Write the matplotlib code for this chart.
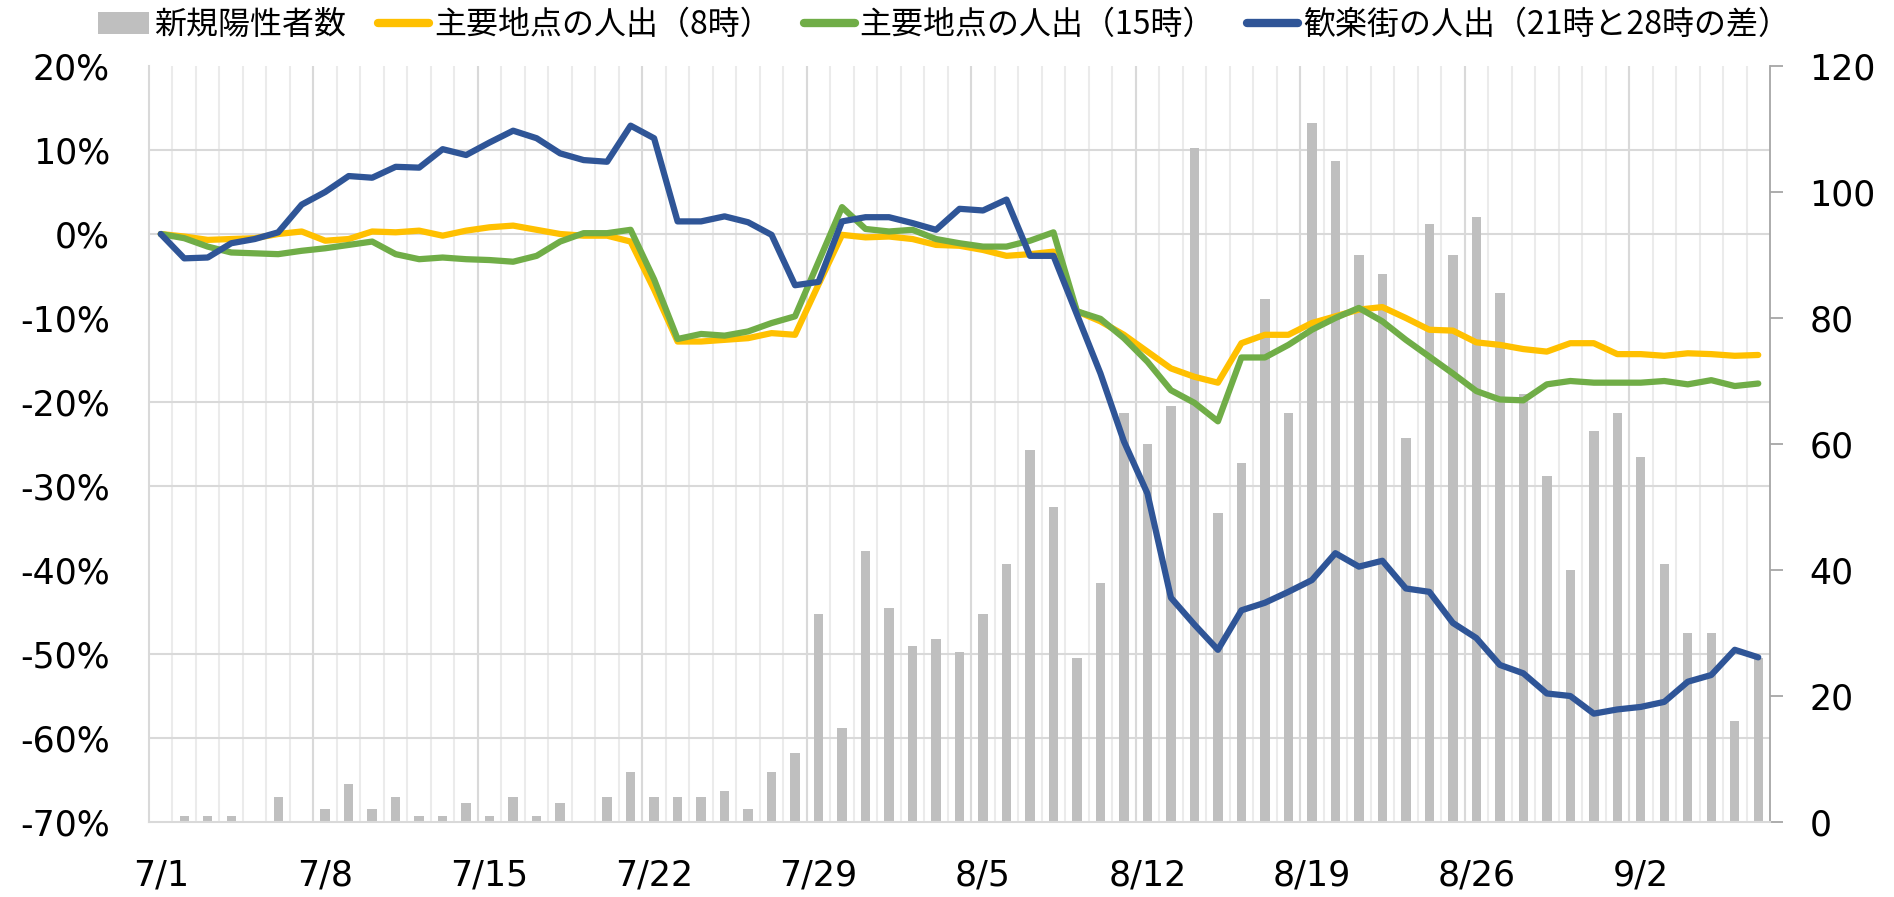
import numpy as np
import matplotlib
matplotlib.use("Agg")
import matplotlib.pyplot as plt
from matplotlib.patches import Patch
from matplotlib.lines import Line2D

# ---- フォント ----
plt.rcParams["font.family"] = ["DejaVu Sans", "Noto Sans CJK JP"]

# ---- データ（7/1〜9/7）----
dates = [f"7/{d}" for d in range(1, 32)] + [f"8/{d}" for d in range(1, 32)] + [f"9/{d}" for d in range(1, 8)]

# 新規陽性者数（右軸）
new_cases = [0, 1, 1, 1, 0, 4, 0, 2, 6, 2,
             4, 1, 1, 3, 1, 4, 1, 3, 0, 4,
             8, 4, 4, 4, 5, 2, 8, 11, 33, 15,
             43, 34, 28, 29, 27, 33, 41, 59, 50, 26,
             38, 65, 60, 66, 107, 49, 57, 83, 65, 111,
             105, 90, 87, 61, 95, 90, 96, 84, 68, 55,
             40, 62, 65, 58, 41, 30, 30, 16, 26]

# 主要地点の人出（8時） [%]
main_8 = [0.0, -0.3, -0.7, -0.6, -0.5, 0.0, 0.3, -0.8, -0.6, 0.3,
          0.2, 0.4, -0.2, 0.4, 0.8, 1.0, 0.5, 0.0, -0.2, -0.2,
          -0.9, -6.6, -12.8, -12.8, -12.6, -12.4, -11.8, -12.0, -6.0, -0.1,
          -0.4, -0.3, -0.6, -1.3, -1.4, -1.9, -2.6, -2.4, -2.1, -9.2,
          -10.4, -12.0, -14.0, -16.0, -17.0, -17.7, -13.0, -12.0, -12.0, -10.6,
          -9.8, -9.0, -8.7, -10.0, -11.4, -11.5, -12.9, -13.2, -13.7, -14.0,
          -13.0, -13.0, -14.3, -14.3, -14.5, -14.2, -14.3, -14.5, -14.4]

# 主要地点の人出（15時） [%]
main_15 = [0.0, -0.5, -1.5, -2.2, -2.3, -2.4, -2.0, -1.7, -1.3, -0.9,
           -2.4, -3.0, -2.8, -3.0, -3.1, -3.3, -2.6, -0.9, 0.1, 0.1,
           0.5, -5.4, -12.5, -11.9, -12.1, -11.6, -10.6, -9.8, -3.3, 3.2,
           0.6, 0.3, 0.5, -0.6, -1.1, -1.5, -1.5, -0.8, 0.2, -9.2,
           -10.1, -12.4, -15.2, -18.6, -20.1, -22.3, -14.7, -14.7, -13.2, -11.4,
           -10.0, -8.8, -10.4, -12.6, -14.6, -16.6, -18.7, -19.7, -19.8, -17.9,
           -17.5, -17.7, -17.7, -17.7, -17.5, -17.9, -17.4, -18.1, -17.8]

# 歓楽街の人出（21時と28時の差） [%]
nightlife = [0.0, -2.9, -2.8, -1.1, -0.6, 0.2, 3.5, 5.0, 6.9, 6.7,
             8.0, 7.9, 10.1, 9.4, 10.9, 12.3, 11.4, 9.6, 8.8, 8.6,
             12.9, 11.4, 1.5, 1.5, 2.1, 1.4, -0.1, -6.1, -5.7, 1.5,
             2.0, 2.0, 1.3, 0.5, 3.0, 2.8, 4.1, -2.6, -2.6, -9.6,
             -16.6, -24.7, -30.9, -43.3, -46.5, -49.5, -44.8, -43.9, -42.6, -41.2,
             -38.0, -39.6, -38.9, -42.2, -42.6, -46.3, -48.1, -51.3, -52.3, -54.7,
             -55.0, -57.1, -56.6, -56.3, -55.7, -53.3, -52.5, -49.5, -50.4]

legend_labels = ["新規陽性者数", "主要地点の人出（8時）", "主要地点の人出（15時）",
                 "歓楽街の人出（21時と28時の差）"]

C_BAR = "#BFBFBF"
C_Y = "#FFC000"
C_G = "#70AD47"
C_B = "#2F5597"

x = np.arange(len(dates))

fig = plt.figure(figsize=(18.94, 8.97), dpi=100)
ax = fig.add_axes([0.07867, 0.08361, 0.85586, 0.84281])   # 線（左軸）
ax2 = ax.twinx()                                          # 棒（右軸）
ax2.set_zorder(ax.get_zorder() - 1)
ax.patch.set_visible(False)

# 縦のグリッド（毎日 + 週ごと）
for b in np.arange(0.5, len(dates) - 1, 1):
    ax2.axvline(b, color="#EBEBEB", linewidth=1.5, zorder=0)
for b in np.arange(6.5, len(dates), 7):
    ax2.axvline(b, color="#D9D9D9", linewidth=1.5, zorder=1)

# 棒グラフ
ax2.bar(x, new_cases, width=0.4, color=C_BAR, zorder=2)
ax2.set_ylim(0, 120)
ax2.set_yticks(np.arange(0, 121, 20))
ax2.set_yticks(np.linspace(0, 120, 10), minor=True)
ax2.tick_params(axis="y", which="major", direction="out", length=9.5, width=1.3,
                color="#A6A6A6", labelsize=25, pad=19)
ax2.tick_params(axis="y", which="minor", length=0)
ax2.grid(True, axis="y", which="minor", color="#D9D9D9", linewidth=1.5, zorder=1)
ax2.set_axisbelow(True)

# 折れ線
lw = 4.5
ax.plot(x, main_8, color=C_Y, lw=lw, solid_joinstyle="round", solid_capstyle="round", zorder=3)
ax.plot(x, main_15, color=C_G, lw=lw, solid_joinstyle="round", solid_capstyle="round", zorder=4)
ax.plot(x, nightlife, color=C_B, lw=lw, solid_joinstyle="round", solid_capstyle="round", zorder=5)

ax.set_xlim(-0.5, len(dates) - 0.5)
ax.set_ylim(-70, 20)
ax.set_yticks(np.arange(-70, 21, 10))
ax.set_yticklabels([f"{v}%" for v in range(-70, 21, 10)])
ax.tick_params(axis="y", length=0, labelsize=25, pad=28)

ax.set_xticks(x[::7])
ax.set_xticklabels([dates[i] for i in x[::7]])
ax.tick_params(axis="x", which="both", length=0, labelsize=25, pad=26)

# 枠線
for s in ["top", "right", "left", "bottom"]:
    ax.spines[s].set_visible(False)
ax2.spines["top"].set_visible(False)
ax2.spines["left"].set_color("#D9D9D9")
ax2.spines["left"].set_linewidth(1.5)
ax2.spines["bottom"].set_color("#D9D9D9")
ax2.spines["bottom"].set_linewidth(1.5)
ax2.spines["right"].set_color("#A6A6A6")
ax2.spines["right"].set_linewidth(1.3)

# 凡例
handles = [Patch(facecolor=C_BAR, edgecolor="none"),
           Line2D([], [], color=C_Y, lw=6, solid_capstyle="round"),
           Line2D([], [], color=C_G, lw=6, solid_capstyle="round"),
           Line2D([], [], color=C_B, lw=6, solid_capstyle="round")]
fig.legend(handles, legend_labels, ncol=4, loc="center left",
           bbox_to_anchor=(0.04, 0.972), frameon=False,
           prop={"family": ["Noto Sans CJK JP"], "size": 23},
           handlelength=1.6, handleheight=0.7, handletextpad=0.15,
           columnspacing=1.0, borderpad=0.2)

fig.savefig("out.png", dpi=100)
